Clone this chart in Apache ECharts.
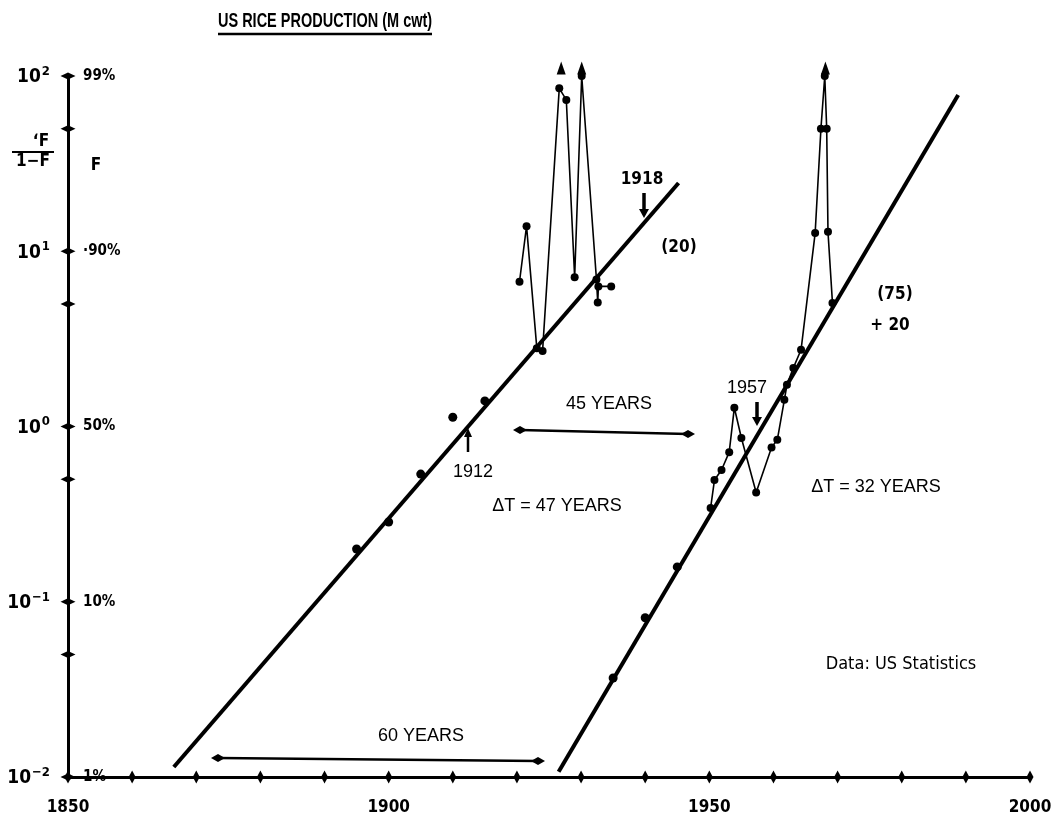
<!DOCTYPE html>
<html>
<head>
<meta charset="utf-8">
<script src="https://cdn.jsdelivr.net/npm/echarts@6/dist/echarts.min.js"></script>
<style>
html,body{margin:0;padding:0;background:#fff;}
#c{width:1063px;height:831px;}
</style>
</head>
<body>
<div id="c"></div>
<script>
// ---- data ----
const earlyYears = [1895, 1900, 1905, 1910, 1915];
const earlyValues = [0.20, 0.285, 0.535, 1.13, 1.40];

const twentiesYears = [1920.4, 1921.5, 1923.1, 1924.0, 1926.6, 1927.7, 1929.0, 1930.1, 1932.4, 1932.6, 1932.7, 1934.7];
const twentiesValues = [6.7, 13.9, 2.8, 2.7, 85, 73, 7.1, 100, 6.9, 5.1, 6.3, 6.3];

const midYears = [1935, 1940, 1945];
const midValues = [0.0367, 0.081, 0.158];

const modernYears = [1950.2, 1950.8, 1951.9, 1953.1, 1953.9, 1955.0, 1957.3, 1959.7, 1960.6, 1961.7, 1962.1, 1963.1, 1964.3, 1966.5, 1967.4, 1968.0, 1968.3, 1968.5, 1969.2];
const modernValues = [0.343, 0.495, 0.565, 0.714, 1.28, 0.86, 0.42, 0.76, 0.84, 1.42, 1.73, 2.16, 2.74, 12.7, 50, 100, 50, 12.9, 5.07];

const offScaleYears = [1926.9, 1930.1, 1968.1];
const offScaleValues = [111, 111, 111];

const fit1Years = [1866.5, 1945.2];
const fit1Values = [0.0114, 24.5];
const fit2Years = [1926.5, 1988.8];
const fit2Values = [0.0107, 78];

const xTickYears = [1850, 1860, 1870, 1880, 1890, 1900, 1910, 1920, 1930, 1940, 1950, 1960, 1970, 1980, 1990, 2000];
const xLabelYears = [1850, 1900, 1950, 2000];
const yTickValues = [100, 50, 10, 5, 1, 0.5, 0.1, 0.05, 0.01];
const decadeValues = [0.01, 0.1, 1, 10, 100];
const decadeExps = ['\u22122', '\u22121', '0', '1', '2'];
const pctLabels = ['1%', '10%', '50%', '\u00b790%', '99%'];

// ---- chart ----
const NARROW = '"Liberation Sans Narrow","DejaVu Sans Condensed","Liberation Sans",Arial,sans-serif';
const SANS = '"Liberation Sans",Arial,sans-serif';
const pair = (xs, ys) => xs.map((x, i) => [x, ys[i]]);
const decIdx = v => decadeValues.findIndex(d => Math.abs(Math.log10(d) - Math.log10(v)) < 1e-6);

const chart = echarts.init(document.getElementById('c'), null, {renderer: 'canvas'});

function T(x, y, text, size, bold, font, align, sx) {
  return {type: 'text', x: x, y: y, z: 50, scaleX: sx || 1,
    style: {text: text, font: (bold ? 'bold ' : '') + size + 'px ' + (font || SANS), fill: '#000',
      textAlign: align || 'center', textVerticalAlign: 'middle', align: align || 'center', verticalAlign: 'middle'}};
}
function L(x1, y1, x2, y2, w) {
  return {type: 'line', z: 50, shape: {x1: x1, y1: y1, x2: x2, y2: y2}, style: {stroke: '#000', lineWidth: w || 2}};
}
function P(points) {
  return {type: 'polygon', z: 50, shape: {points: points}, style: {fill: '#000'}};
}
function dblArrow(x1, y1, x2, y2) {
  return [L(x1, y1, x2, y2, 2.5),
    P([[x1 - 7, y1], [x1, y1 - 4], [x1 + 7, y1], [x1, y1 + 4]]),
    P([[x2 - 7, y2], [x2, y2 - 4], [x2 + 7, y2], [x2, y2 + 4]])];
}
function downArrow(x, y1, y2) {
  return [L(x, y1, x, y2 - 6, 3.5), P([[x - 5, y2 - 9], [x + 5, y2 - 9], [x, y2]])];
}
function upArrow(x, y1, y2) { // y1 bottom, y2 tip (smaller)
  return [L(x, y1, x, y2 + 6, 2.5), P([[x - 4, y2 + 9], [x + 4, y2 + 9], [x, y2]])];
}

const graphics = [].concat(
  [T(218, 21, 'US RICE PRODUCTION (M cwt)', 21, true, SANS, 'left', 0.69), L(218, 34, 432, 34, 2.5)],
  [T(41, 142, '\u02bbF', 17, true, NARROW), L(12, 152, 54, 152, 2), T(33, 162, '1\u2212F', 17, true, NARROW), T(96, 166, 'F', 17, true, NARROW)],
  [T(642, 180, '1918', 17, true, NARROW)], downArrow(644, 193, 218),
  [T(679, 248, '(20)', 17, true, NARROW)],
  [T(895, 295, '(75)', 17, true, NARROW), T(890, 326, '+ 20', 17, true, NARROW)],
  [T(747, 388, '1957', 18, false)], downArrow(757, 402, 426),
  [T(609, 404, '45 YEARS', 18, false)], dblArrow(520, 430, 688, 434),
  [T(473, 472, '1912', 18, false)], upArrow(468, 452, 428),
  [T(557, 506, '\u0394T = 47 YEARS', 18, false)],
  [T(876, 487, '\u0394T = 32 YEARS', 18, false)],
  [T(901, 664, 'Data: US Statistics', 18, false, NARROW)],
  [T(421, 736, '60 YEARS', 18, false)], dblArrow(218, 758, 538, 761)
);

const solid = {color: '#000', opacity: 1};

const option = {
  backgroundColor: '#fff',
  animation: false,
  grid: {left: 68, right: 33, top: 76, bottom: 54, containLabel: false},
  xAxis: {
    type: 'value', min: 1850, max: 2000, interval: 10,
    axisLine: {onZero: false, lineStyle: {color: '#000', width: 3}},
    axisTick: {show: false},
    splitLine: {show: false},
    axisLabel: {
      margin: 22, color: '#000', fontFamily: NARROW, fontWeight: 'bold', fontSize: 17,
      formatter: v => xLabelYears.includes(v) ? String(v) : ''
    }
  },
  yAxis: [{
    type: 'log', logBase: 10, min: 0.01, max: 100,
    axisLine: {onZero: false, lineStyle: {color: '#000', width: 3}},
    axisTick: {show: false},
    splitLine: {show: false},
    axisLabel: {
      margin: 18, color: '#000',
      formatter: v => { const i = decIdx(v); return i < 0 ? '' : '{b|10}{s|' + decadeExps[i] + '}'; },
      rich: {
        b: {fontFamily: NARROW, fontWeight: 'bold', fontSize: 19, color: '#000', verticalAlign: 'bottom', lineHeight: 22},
        s: {fontFamily: NARROW, fontWeight: 'bold', fontSize: 13, color: '#000', verticalAlign: 'top', lineHeight: 22, padding: [0, 0, 8, 1]}
      }
    }
  }, {
    type: 'log', logBase: 10, min: 0.01, max: 100, position: 'left',
    axisLine: {show: false}, axisTick: {show: false}, splitLine: {show: false},
    axisLabel: {
      inside: true, margin: 15, color: '#000', fontFamily: NARROW, fontWeight: 'bold', fontSize: 15,
      formatter: v => { const i = decIdx(v); return i < 0 ? '' : pctLabels[i]; }
    }
  }],
  series: [
    {type: 'line', data: pair(fit1Years, fit1Values), symbol: 'none', clip: false,
      lineStyle: {color: '#000', width: 4}, z: 3},
    {type: 'line', data: pair(fit2Years, fit2Values), symbol: 'none', clip: false,
      lineStyle: {color: '#000', width: 4}, z: 3},
    {type: 'scatter', data: pair(earlyYears, earlyValues), symbol: 'circle', symbolSize: 9,
      itemStyle: solid, z: 4},
    {type: 'line', data: pair(twentiesYears, twentiesValues), symbol: 'circle', symbolSize: 8, showAllSymbol: true,
      clip: false, lineStyle: {color: '#000', width: 1.6}, itemStyle: solid, z: 4},
    {type: 'scatter', data: pair(midYears, midValues), symbol: 'circle', symbolSize: 9,
      itemStyle: solid, z: 4},
    {type: 'line', data: pair(modernYears, modernValues), symbol: 'circle', symbolSize: 8, showAllSymbol: true,
      clip: false, lineStyle: {color: '#000', width: 1.6}, itemStyle: solid, z: 4},
    {type: 'scatter', data: pair(offScaleYears, offScaleValues), symbol: 'triangle', symbolSize: [9, 13],
      clip: false, itemStyle: solid, z: 5},
    {type: 'scatter', data: xTickYears.map(y => [y, 0.01]), symbol: 'diamond', symbolSize: [7, 13],
      clip: false, itemStyle: solid, z: 5},
    {type: 'scatter', data: yTickValues.map(v => [1850, v]), symbol: 'diamond', symbolSize: [15, 7],
      clip: false, itemStyle: solid, z: 5}
  ],
  graphic: graphics
};
chart.setOption(option);
</script>
</body>
</html>
